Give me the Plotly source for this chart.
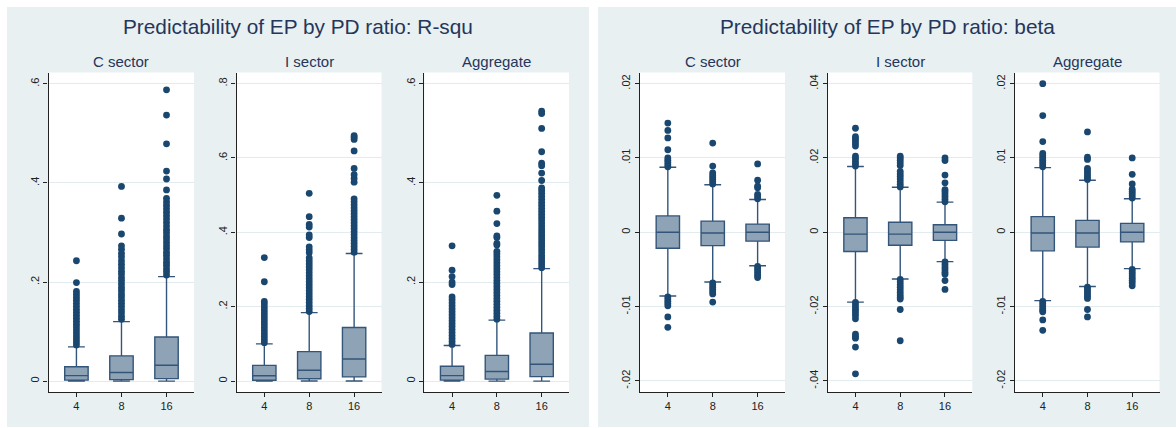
import plotly.graph_objects as go

W, H = 1176, 428

categories = ["4", "8", "16"]

# ---------------- R-squared panel ----------------
rsq_c_lo = [0.0, 0.0, 0.0]
rsq_c_q1 = [0.002, 0.003, 0.005]
rsq_c_med = [0.011, 0.0175, 0.032]
rsq_c_q3 = [0.029, 0.051, 0.089]
rsq_c_hi = [0.069, 0.120, 0.211]
rsq_c_out4 = [0.073, 0.079, 0.085, 0.091, 0.097, 0.103, 0.109, 0.115, 0.121, 0.127, 0.133,
              0.139, 0.145, 0.151, 0.157, 0.163, 0.169, 0.175, 0.181, 0.199, 0.243]
rsq_c_out8 = [0.125, 0.131, 0.138, 0.144, 0.151, 0.157, 0.163, 0.170, 0.176, 0.183, 0.189,
              0.196, 0.203, 0.209, 0.216, 0.222, 0.229, 0.236, 0.243, 0.251, 0.258, 0.266,
              0.273, 0.297, 0.329, 0.393]
rsq_c_out16 = [0.214, 0.221, 0.227, 0.234, 0.240, 0.247, 0.254, 0.260, 0.267, 0.273, 0.280,
               0.287, 0.293, 0.300, 0.306, 0.313, 0.320, 0.327, 0.334, 0.341, 0.348, 0.355,
               0.362, 0.369, 0.386, 0.408, 0.424, 0.479, 0.537, 0.588]

rsq_i_lo = [0.0, 0.0, 0.0]
rsq_i_q1 = [0.002, 0.006, 0.011]
rsq_i_med = [0.014, 0.029, 0.059]
rsq_i_q3 = [0.042, 0.079, 0.144]
rsq_i_hi = [0.100, 0.184, 0.343]
rsq_i_out4 = [0.103, 0.111, 0.119, 0.127, 0.135, 0.143, 0.151, 0.159, 0.167, 0.175, 0.183,
              0.191, 0.199, 0.207, 0.214, 0.267, 0.332]
rsq_i_out8 = [0.187, 0.195, 0.203, 0.211, 0.219, 0.227, 0.235, 0.243, 0.251, 0.259, 0.267,
              0.275, 0.283, 0.291, 0.299, 0.307, 0.315, 0.323, 0.331, 0.345, 0.353, 0.361,
              0.386, 0.393, 0.414, 0.421, 0.442, 0.505]
rsq_i_out16 = [0.346, 0.354, 0.362, 0.370, 0.378, 0.386, 0.394, 0.402, 0.410, 0.418, 0.426,
               0.434, 0.442, 0.450, 0.458, 0.466, 0.474, 0.482, 0.490, 0.535, 0.545, 0.555,
               0.572, 0.619, 0.650, 0.656, 0.660]

rsq_a_lo = [0.0, 0.0, 0.0]
rsq_a_q1 = [0.002, 0.004, 0.009]
rsq_a_med = [0.011, 0.0195, 0.034]
rsq_a_q3 = [0.030, 0.052, 0.097]
rsq_a_hi = [0.072, 0.123, 0.227]
rsq_a_out4 = [0.074, 0.080, 0.086, 0.092, 0.098, 0.104, 0.110, 0.116, 0.122, 0.128, 0.134,
              0.140, 0.146, 0.152, 0.158, 0.164, 0.170, 0.195, 0.200, 0.211, 0.224, 0.273]
rsq_a_out8 = [0.125, 0.131, 0.137, 0.143, 0.149, 0.155, 0.161, 0.167, 0.173, 0.179, 0.185,
              0.191, 0.197, 0.203, 0.209, 0.215, 0.221, 0.227, 0.233, 0.239, 0.245, 0.251,
              0.257, 0.262, 0.275, 0.278, 0.290, 0.293, 0.318, 0.343, 0.375]
rsq_a_out16 = [0.229, 0.235, 0.241, 0.247, 0.253, 0.259, 0.265, 0.271, 0.277, 0.283, 0.289,
               0.295, 0.301, 0.307, 0.313, 0.319, 0.325, 0.331, 0.337, 0.343, 0.349, 0.355,
               0.361, 0.367, 0.373, 0.379, 0.385, 0.390, 0.405, 0.420, 0.435, 0.440, 0.463,
               0.510, 0.540, 0.545]

# ---------------- beta panel ----------------
beta_c_lo = [-0.00857, -0.0067, -0.0045]
beta_c_q1 = [-0.00215, -0.0018, -0.0012]
beta_c_med = [0.0, -0.0001, 0.0]
beta_c_q3 = [0.0022, 0.0015, 0.0011]
beta_c_hi = [0.00874, 0.0064, 0.0044]
beta_c_out4 = [0.0088, 0.0091, 0.0094, 0.0097, 0.0100, 0.0111, 0.0127, 0.0137, 0.0147,
               -0.0087, -0.0090, -0.0093, -0.0096, -0.0099, -0.0114, -0.0128]
beta_c_out8 = [0.0065, 0.0068, 0.0071, 0.0074, 0.0077, 0.0080, 0.0089, 0.0120,
               -0.0068, -0.0071, -0.0074, -0.0077, -0.0080, -0.0083, -0.0094]
beta_c_out16 = [0.0045, 0.0048, 0.0051, 0.0060, 0.0062, 0.0070, 0.0092,
                -0.0046, -0.0049, -0.0052, -0.0055, -0.0058, -0.0061]

beta_i_lo = [-0.0188, -0.0126, -0.0079]
beta_i_q1 = [-0.0052, -0.0035, -0.0022]
beta_i_med = [-0.0005, -0.0005, 0.0]
beta_i_q3 = [0.0039, 0.0027, 0.0020]
beta_i_hi = [0.0177, 0.0121, 0.0081]
beta_i_out4 = [0.0178, 0.0185, 0.0192, 0.0199, 0.0205, 0.0232, 0.0239, 0.0246, 0.0252, 0.0257,
               0.0280, -0.0189, -0.0196, -0.0203, -0.0210, -0.0217, -0.0224, -0.0233,
               -0.0274, -0.0280, -0.0285, -0.0309, -0.0381]
beta_i_out8 = [0.0122, 0.0129, 0.0136, 0.0143, 0.0150, 0.0157, 0.0164, 0.0180, 0.0187, 0.0194,
               0.0200, 0.0205, -0.0127, -0.0134, -0.0141, -0.0148, -0.0155, -0.0162,
               -0.0169, -0.0175, -0.0180, -0.0208, -0.0292]
beta_i_out16 = [0.0082, 0.0089, 0.0096, 0.0103, 0.0110, 0.0115, 0.0133, 0.0154, 0.0193, 0.0200,
                -0.0080, -0.0087, -0.0094, -0.0101, -0.0108, -0.0113, -0.0130, -0.0154]

beta_a_lo = [-0.0092, -0.0073, -0.0049]
beta_a_q1 = [-0.0025, -0.0020, -0.0013]
beta_a_med = [-0.0001, -0.0001, 0.0]
beta_a_q3 = [0.0021, 0.0016, 0.0012]
beta_a_hi = [0.0087, 0.0070, 0.0045]
beta_a_out4 = [0.0088, 0.0091, 0.0094, 0.0097, 0.0100, 0.0103, 0.0106, 0.0122, 0.0157, 0.0200,
               -0.0093, -0.0096, -0.0099, -0.0102, -0.0105, -0.0107, -0.0118, -0.0132]
beta_a_out8 = [0.0071, 0.0074, 0.0077, 0.0080, 0.0083, 0.0086, 0.0098, 0.0101, 0.0135,
               -0.0074, -0.0077, -0.0080, -0.0083, -0.0086, -0.0089, -0.0104, -0.0114]
beta_a_out16 = [0.0046, 0.0049, 0.0052, 0.0055, 0.0058, 0.0065, 0.0078, 0.0100,
                -0.0050, -0.0053, -0.0056, -0.0059, -0.0062, -0.0065, -0.0068, -0.0072]

# tick labels
rsq_ticks6 = [0, 0.2, 0.4, 0.6]
rsq_ticks6_text = ["0", ".2", ".4", ".6"]
rsq_ticks8 = [0, 0.2, 0.4, 0.6, 0.8]
rsq_ticks8_text = ["0", ".2", ".4", ".6", ".8"]
beta_ticks2 = [-0.02, -0.01, 0, 0.01, 0.02]
beta_ticks2_text = ["-.02", "-.01", "0", ".01", ".02"]
beta_ticks4 = [-0.04, -0.02, 0, 0.02, 0.04]
beta_ticks4_text = ["-.04", "-.02", "0", ".02", ".04"]

panel_titles = ["Predictability of EP by PD ratio: R-squ", "Predictability of EP by PD ratio: beta"]
sub_titles = ["C sector", "I sector", "Aggregate"]

# ---------------- styling ----------------
BG = "#e8f0f2"
GRID = "#e2ebee"
NAVY = "#1a476f"
BOX_FILL = "#8fa3b7"
BOX_LINE = "#33557a"
TITLE_C = "#25365a"
FONT = "Liberation Sans, Arial, sans-serif"

subplots = [
    ((48.5, 194), (rsq_c_lo, rsq_c_q1, rsq_c_med, rsq_c_q3, rsq_c_hi),
     (rsq_c_out4, rsq_c_out8, rsq_c_out16), (-0.022, 0.623), rsq_ticks6, rsq_ticks6_text),
    ((236.5, 381.5), (rsq_i_lo, rsq_i_q1, rsq_i_med, rsq_i_q3, rsq_i_hi),
     (rsq_i_out4, rsq_i_out8, rsq_i_out16), (-0.0296, 0.830), rsq_ticks8, rsq_ticks8_text),
    ((424.3, 569), (rsq_a_lo, rsq_a_q1, rsq_a_med, rsq_a_q3, rsq_a_hi),
     (rsq_a_out4, rsq_a_out8, rsq_a_out16), (-0.022, 0.623), rsq_ticks6, rsq_ticks6_text),
    ((640, 785), (beta_c_lo, beta_c_q1, beta_c_med, beta_c_q3, beta_c_hi),
     (beta_c_out4, beta_c_out8, beta_c_out16), (-0.0215, 0.0215), beta_ticks2, beta_ticks2_text),
    ((827.7, 972.3), (beta_i_lo, beta_i_q1, beta_i_med, beta_i_q3, beta_i_hi),
     (beta_i_out4, beta_i_out8, beta_i_out16), (-0.043, 0.043), beta_ticks4, beta_ticks4_text),
    ((1015, 1159.5), (beta_a_lo, beta_a_q1, beta_a_med, beta_a_q3, beta_a_hi),
     (beta_a_out4, beta_a_out8, beta_a_out16), (-0.0215, 0.0215), beta_ticks2, beta_ticks2_text),
]

y_top_px, y_bot_px = 72.5, 392
ydom = [(H - y_bot_px) / H, (H - y_top_px) / H]

fig = go.Figure()
layout_axes = {}
annotations = []

for i, (xpx, stats, outs, yr, tv, tt) in enumerate(subplots):
    n = i + 1
    xa = "x" if n == 1 else f"x{n}"
    ya = "y" if n == 1 else f"y{n}"
    lo, q1, med, q3, hi = stats
    fig.add_trace(go.Box(
        x=categories, q1=q1, median=med, q3=q3, lowerfence=lo, upperfence=hi,
        boxpoints=False, width=0.52, whiskerwidth=0.72,
        fillcolor=BOX_FILL, line=dict(color=BOX_LINE, width=1.4),
        xaxis=xa, yaxis=ya, showlegend=False, hoverinfo="skip",
    ))
    ox, oy = [], []
    for cat, vals in zip(categories, outs):
        ox += [cat] * len(vals)
        oy += vals
    fig.add_trace(go.Scatter(
        x=ox, y=oy, mode="markers",
        marker=dict(color=NAVY, size=6.8, line=dict(width=0)),
        xaxis=xa, yaxis=ya, showlegend=False, hoverinfo="skip",
    ))
    xkey = "xaxis" if n == 1 else f"xaxis{n}"
    ykey = "yaxis" if n == 1 else f"yaxis{n}"
    layout_axes[xkey] = dict(
        domain=[xpx[0] / W, xpx[1] / W], anchor=ya,
        type="category", categoryorder="array", categoryarray=categories,
        range=[-0.62, 2.61], showgrid=False, zeroline=False,
        showline=True, linecolor="#222222", linewidth=1.3,
        ticks="outside", ticklen=4, tickcolor="#222222", tickwidth=1.1,
        tickfont=dict(family=FONT, size=11, color="#222222"),
    )
    layout_axes[ykey] = dict(
        domain=ydom, anchor=xa, range=list(yr),
        tickvals=tv, ticktext=tt, tickangle=-90,
        showgrid=True, gridcolor=GRID, gridwidth=1, zeroline=False,
        showline=True, linecolor="#222222", linewidth=1.3,
        ticks="outside", ticklen=4, tickcolor="#222222", tickwidth=1.1,
        tickfont=dict(family=FONT, size=11, color="#222222"),
    )
    annotations.append(dict(
        text=sub_titles[i % 3], x=(xpx[0] + xpx[1]) / 2 / W, y=1 - 62 / H,
        xref="paper", yref="paper", xanchor="center", yanchor="middle",
        showarrow=False, font=dict(family=FONT, size=15, color=TITLE_C),
    ))

for j, (x0, x1) in enumerate([(7, 589), (598, 1176)]):
    annotations.append(dict(
        text=panel_titles[j], x=(x0 + x1) / 2 / W, y=1 - 27 / H,
        xref="paper", yref="paper", xanchor="center", yanchor="middle",
        showarrow=False, font=dict(family=FONT, size=20.8, color=TITLE_C),
    ))

shapes = []
for (x0, x1) in [(7, 589), (598, 1176)]:
    shapes.append(dict(
        type="rect", xref="paper", yref="paper", layer="below",
        x0=x0 / W, x1=x1 / W, y0=(H - 427) / H, y1=(H - 7) / H,
        fillcolor=BG, line=dict(width=0),
    ))
for i, (xpx, *_rest) in enumerate(subplots):
    shapes.append(dict(
        type="rect", xref="paper", yref="paper", layer="below",
        x0=xpx[0] / W, x1=xpx[1] / W, y0=ydom[0], y1=ydom[1],
        fillcolor="white", line=dict(width=0),
    ))

fig.update_layout(
    width=W, height=H, margin=dict(l=0, r=0, t=0, b=0),
    paper_bgcolor="white", plot_bgcolor="rgba(0,0,0,0)",
    shapes=shapes, annotations=annotations,
    font=dict(family=FONT),
    **layout_axes,
)

fig.write_html("out.html")
